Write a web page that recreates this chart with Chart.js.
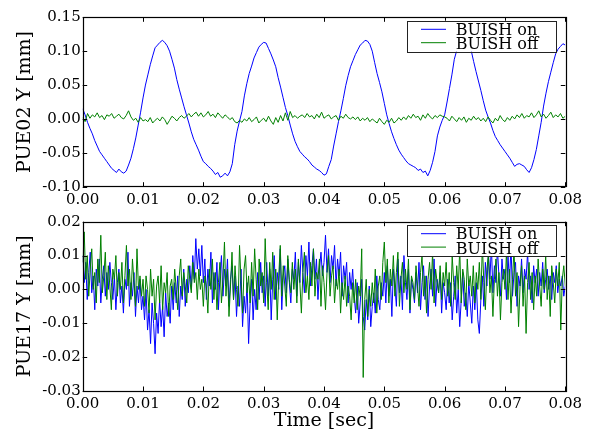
<!DOCTYPE html>
<html>
<head>
<meta charset="utf-8">
<script src="https://cdn.jsdelivr.net/npm/chart.js@4.4.1/dist/chart.umd.min.js"></script>
<style>
  html, body { margin: 0; padding: 0; background: #fff; }
  #wrap { position: relative; width: 591px; height: 431px; }
  canvas { position: absolute; left: 0; }
  #c1 { top: 0; }
  #c2 { top: 205px; }
</style>
</head>
<body>
<div id="wrap">
  <canvas id="c1" width="591" height="205"></canvas>
  <canvas id="c2" width="591" height="226"></canvas>
</div>
<script>
// ---------------- DATA ----------------
const seriesLabels = ["BUISH on", "BUISH off"];
const xTickLabels = ["0.00","0.01","0.02","0.03","0.04","0.05","0.06","0.07","0.08"];
const topYTickLabels = ["-0.10","-0.05","0.00","0.05","0.10","0.15"];
const bottomYTickLabels = ["-0.03","-0.02","-0.01","0.00","0.01","0.02"];
const topYLabel = "PUE02 Y [mm]";
const bottomYLabel = "PUE17 Y [mm]";
const xLabel = "Time [sec]";

// sample intervals (sec)
const topSampleInterval = 0.0004;
const bottomSampleInterval = 0.00025;

// PUE02 Y, BUISH on (mm)
const pue02On = [
 0.015, 0.006,-0.005,-0.014,-0.022,-0.032,-0.040,-0.048,-0.053,-0.058,
-0.063,-0.068,-0.073,-0.076,-0.079,-0.074,-0.078,-0.080,-0.077,-0.068,
-0.058,-0.044,-0.028,-0.009, 0.010, 0.031, 0.050, 0.065, 0.080, 0.093,
 0.105, 0.109, 0.113, 0.116, 0.113, 0.108, 0.100, 0.088, 0.075, 0.058,
 0.044, 0.031, 0.018, 0.006,-0.006,-0.019,-0.030,-0.038,-0.046,-0.055,
-0.063,-0.066,-0.070,-0.073,-0.077,-0.082,-0.079,-0.086,-0.084,-0.080,
-0.084,-0.078,-0.066,-0.038,-0.018,-0.003, 0.011, 0.034, 0.052, 0.067,
 0.078, 0.090, 0.098, 0.106, 0.110, 0.113, 0.112, 0.104, 0.096, 0.087,
 0.077, 0.061, 0.047, 0.032, 0.017, 0.005,-0.009,-0.022,-0.033,-0.041,
-0.048,-0.052,-0.056,-0.059,-0.063,-0.068,-0.071,-0.074,-0.076,-0.079,
-0.083,-0.081,-0.070,-0.060,-0.040,-0.022,-0.004, 0.012, 0.030, 0.049,
 0.064, 0.077, 0.086, 0.095, 0.102, 0.109, 0.112, 0.116, 0.115, 0.110,
 0.100, 0.083, 0.067, 0.054, 0.040, 0.023, 0.006,-0.007,-0.019,-0.029,
-0.038,-0.046,-0.052,-0.057,-0.062,-0.066,-0.068,-0.070,-0.072,-0.076,
-0.074,-0.079,-0.077,-0.084,-0.076,-0.064,-0.048,-0.025,-0.012,-0.002,
 0.006, 0.025, 0.045, 0.065, 0.088, 0.101, 0.109, 0.112, 0.114, 0.115,
 0.110, 0.101, 0.085, 0.070, 0.056, 0.042, 0.027, 0.013, 0.003,-0.006,
-0.017,-0.026,-0.032,-0.038,-0.043,-0.048,-0.053,-0.058,-0.064,-0.070,
-0.067,-0.066,-0.068,-0.070,-0.075,-0.079,-0.072,-0.060,-0.045,-0.025,
-0.005, 0.019, 0.038, 0.055, 0.069, 0.083, 0.096, 0.103, 0.107, 0.111,
 0.109
];

// PUE02 Y, BUISH off (mm)
const pue02Off = [
 0.002,-0.004, 0.008, 0.001, 0.006, 0.003, 0.009, 0.002, 0.005,-0.001,
 0.006, 0.004, 0.008, 0.001, 0.004, 0.007, 0.002, 0.000, 0.005, 0.012,
 0.003,-0.002, 0.001,-0.005, 0.002,-0.003,
-0.001,-0.004, 0.002,-0.006,-0.002, 0.001,-0.003, 0.003,-0.001,-0.008,
-0.002, 0.004, 0.001,-0.003, 0.002, 0.005, 0.001,
 0.004, 0.008, 0.003, 0.007, 0.010, 0.004, 0.009, 0.003, 0.006, 0.011,
 0.004, 0.007, 0.002, 0.009, 0.005, 0.001, 0.006, 0.003,-0.001, 0.002,
-0.004,-0.006,-0.002,-0.005, 0.000,-0.003, 0.002,-0.004,-0.001, 0.003,
-0.006,-0.002, 0.001,-0.004, 0.004,-0.003,-0.008, 0.002,-0.005, 0.005,
-0.003, 0.009,-0.002,
 0.011, 0.002, 0.005, 0.001, 0.004, 0.006, 0.002, 0.008, 0.003, 0.005,
 0.000, 0.007, 0.002, 0.010, 0.001, 0.004, 0.006, 0.000, 0.003, 0.005,
-0.002, 0.004, 0.001, 0.007, 0.002, 0.000, 0.003,
-0.001, 0.003,-0.003, 0.001,-0.002, 0.002,-0.004, 0.000,-0.003,-0.006,
 0.001,-0.004,-0.008,-0.002,-0.005, 0.001,-0.006,-0.003, 0.002,-0.002,
 0.003,-0.001, 0.005, 0.001, 0.007, 0.002, 0.004,-0.002, 0.006, 0.001,
 0.008, 0.003, 0.000, 0.005, 0.002, 0.006, 0.004, 0.003,
 0.001,-0.003, 0.004, 0.000,-0.004, 0.002,-0.002, 0.003,-0.005, 0.001,
-0.002, 0.004,-0.001, 0.002,-0.003, 0.001,-0.004, 0.003,-0.002,-0.006,
 0.001,-0.003, 0.005,-0.001,-0.004,
 0.002,-0.002, 0.004, 0.000, 0.006, 0.002, 0.008, 0.001, 0.005, 0.003,
 0.009, 0.002, 0.006, 0.012, 0.003, 0.007, 0.001, 0.005, 0.010, 0.002,
 0.006, 0.003, 0.008, 0.001, 0.004
];

// PUE17 Y, BUISH on (mm)
const pue17On = [
 0.010, 0.002, 0.008,-0.003, 0.005, 0.011,-0.001, 0.004,-0.006, 0.006, 0.001, 0.009,-0.004, 0.003, 0.007,-0.002, 0.005, 0.000, 0.008, 0.002,
-0.003, 0.004,-0.006, 0.002, 0.006,-0.004, 0.001,-0.007, 0.003, 0.000, 0.011,-0.005, 0.002,-0.002, 0.005,-0.008, 0.001,-0.004, 0.003,-0.006,
-0.002,-0.009, 0.000,-0.012,-0.006,-0.016,-0.004,-0.010,-0.019,-0.007,-0.013,-0.003,-0.011,-0.005,-0.014,-0.001,-0.008,-0.004,-0.010, 0.001,
-0.006, 0.002,-0.004, 0.004,-0.008, 0.001,-0.003, 0.006,-0.005, 0.003,-0.001, 0.007, 0.000, 0.010, 0.003, 0.015, 0.006, 0.012, 0.004, 0.013,
 0.002, 0.009,-0.003, 0.006, 0.001, 0.011,-0.004, 0.005, 0.000, 0.008,-0.006, 0.004, 0.010,-0.002, 0.006, 0.001, 0.009,-0.005, 0.003, 0.007,
-0.003, 0.004,-0.008, 0.001,-0.005, 0.006,-0.011,-0.002,-0.007, 0.002,-0.016,-0.004, 0.003,-0.009, 0.000,-0.006, 0.005,-0.003, 0.008,-0.001,
 0.004,-0.005, 0.008,-0.002, 0.006,-0.009, 0.003, 0.010,-0.003, 0.005, 0.000, 0.012,-0.006, 0.004, 0.007,-0.001, 0.009, 0.002,-0.004, 0.006,
 0.003, 0.011,-0.002, 0.008, 0.002, 0.013, 0.005,-0.001, 0.010, 0.004, 0.014, 0.001, 0.007, 0.012, 0.003, 0.009,-0.003, 0.006, 0.011, 0.004,
 0.008, 0.016, 0.005, 0.012, 0.002, 0.010, 0.006, 0.013, 0.001, 0.009, 0.004, 0.011,-0.002, 0.007, 0.003, 0.008,-0.004, 0.005, 0.000, 0.006,
-0.002,-0.007, 0.002,-0.010,-0.004, 0.003,-0.008,-0.012,-0.003,-0.009, 0.001,-0.011,-0.005,-0.001,-0.007, 0.004,-0.003,-0.006, 0.002,-0.002,
 0.005,-0.004, 0.007,-0.002, 0.003,-0.008, 0.006, 0.001,-0.005, 0.009,-0.001, 0.004,-0.006, 0.010, 0.002,-0.003, 0.006,-0.007, 0.003, 0.000,
-0.004, 0.005,-0.001, 0.008,-0.006, 0.002, 0.007,-0.003, 0.004,-0.008, 0.001, 0.006,-0.002, 0.009,-0.005, 0.003,-0.001, 0.005,-0.007, 0.002,
-0.001,-0.006, 0.003,-0.004, 0.002,-0.009,-0.002, 0.004,-0.007, 0.000,-0.011,-0.003, 0.005,-0.005,-0.001,-0.008, 0.002,-0.004,-0.010, 0.001,
-0.006, 0.002,-0.009,-0.013,-0.003, 0.004,-0.005, 0.008, 0.001, 0.011, 0.003, 0.013,-0.001, 0.007, 0.002, 0.012, 0.004,-0.002, 0.009, 0.003,
 0.006,-0.003, 0.010, 0.002, 0.013,-0.002, 0.005, 0.008,-0.005, 0.004, 0.001, 0.009,-0.001, 0.006, 0.003, 0.011, 0.000, 0.004,-0.004, 0.007,
 0.002, 0.006,-0.002, 0.005, 0.001, 0.008,-0.001, 0.003, 0.006, 0.000, 0.004,-0.003, 0.005, 0.002, 0.007,-0.001, 0.003, 0.001, 0.004,-0.002,
 0.001
];

// PUE17 Y, BUISH off (mm)
const pue17Off = [
 0.008, 0.017, 0.003, 0.010,-0.002, 0.006, 0.012, 0.000, 0.005,-0.004, 0.009, 0.002, 0.016,-0.001, 0.004, 0.011,-0.003, 0.007, 0.001,-0.006,
 0.006, 0.003, 0.010,-0.002, 0.005, 0.000, 0.008,-0.004, 0.004, 0.013, 0.001, 0.006,-0.003, 0.009, 0.002,-0.005, 0.012, 0.000, 0.004,-0.002,
 0.003,-0.005, 0.004, 0.000,-0.007, 0.006,-0.002, 0.003,-0.009, 0.001, 0.004,-0.004, 0.007,-0.006, 0.002,-0.001, 0.005,-0.008, 0.001, 0.003,
-0.003, 0.006, 0.000,-0.006, 0.004, 0.009,-0.002, 0.005, 0.001,-0.004, 0.007, 0.003,-0.001, 0.008, 0.002, 0.005,-0.003, 0.006, 0.000, 0.003,
-0.005, 0.004, 0.001,-0.007, 0.006, 0.000, 0.009,-0.003, 0.005,-0.006, 0.002, 0.008,-0.004, 0.003, 0.014,-0.002, 0.006,-0.008, 0.001, 0.011,
-0.003, 0.007, 0.000,-0.005, 0.013, 0.002,-0.007, 0.006, 0.010,-0.001, 0.004,-0.004, 0.008,-0.002, 0.012, 0.003,-0.006, 0.009, 0.001, 0.005,
-0.004, 0.015, 0.002,-0.006, 0.008, 0.000, 0.011,-0.003, 0.006,-0.009, 0.004, 0.013,-0.002, 0.007, 0.001,-0.005, 0.010, 0.003,-0.001, 0.008,
 0.000, 0.006,-0.004, 0.009, 0.002,-0.007, 0.005, 0.011,-0.001, 0.004,-0.003, 0.008, 0.001, 0.012,-0.002, 0.005, 0.003, 0.009,-0.005, 0.007,
 0.002,-0.006, 0.005, 0.010,-0.002, 0.004, 0.007,-0.004, 0.003, 0.000, 0.006,-0.007, 0.002,-0.003, 0.004,-0.005, 0.001,-0.002,-0.009, 0.002,
-0.004, 0.003,-0.006, 0.001,-0.002, 0.012,-0.026,-0.003, 0.003,-0.008, 0.000,-0.005, 0.002,-0.004, 0.006,-0.007, 0.001, 0.004,-0.003, 0.008,
 0.014, 0.002, 0.009,-0.004, 0.006, 0.001, 0.010,-0.002, 0.005, 0.011,-0.005, 0.003, 0.008,-0.001, 0.006, 0.000, 0.009,-0.006, 0.004, 0.002,
-0.003, 0.007, 0.001,-0.005, 0.005, 0.010,-0.002, 0.004,-0.007, 0.003, 0.008, 0.000, 0.011,-0.004, 0.006, 0.002,-0.001, 0.007,-0.003, 0.005,
 0.001, 0.008,-0.002, 0.005,-0.005, 0.010, 0.002,-0.003, 0.007, 0.000, 0.012,-0.004, 0.006, 0.003,-0.006, 0.009, 0.001, 0.004,-0.002, 0.007,
-0.004, 0.005, 0.000, 0.008,-0.003, 0.013, 0.002,-0.006, 0.006, 0.010,-0.001, 0.004,-0.008, 0.003, 0.009,-0.002, 0.005,-0.009, 0.002, 0.006,
 0.000, 0.011,-0.003, 0.006,-0.007, 0.003, 0.012,-0.002, 0.005,-0.011, 0.001, 0.007,-0.005, 0.004,-0.013, 0.002, 0.008,-0.003, 0.005,-0.006,
 0.004,-0.002, 0.009, 0.001,-0.005, 0.006, 0.000, 0.010,-0.003, 0.004,-0.008, 0.007, 0.002,-0.004, 0.006, 0.001, 0.008,-0.012, 0.003, 0.007,
 0.001
];

// ---------------- CHART ----------------
const FONT = "'DejaVu Serif', 'Liberation Serif', serif";
Chart.defaults.font.family = FONT;
Chart.defaults.color = '#000';

const COLORS = ['#0000ff', '#008000'];

function toPoints(values, step) {
  return values.map((v, i) => ({ x: i * step, y: v }));
}

// frame, inward ticks and legend box
const framePlugin = {
  id: 'frame',
  afterDraw(chart) {
    const { ctx, chartArea: a, scales } = chart;
    ctx.save();
    const TL = 4.5;
    ctx.strokeStyle = '#000';
    ctx.lineWidth = 1;
    ctx.beginPath();
    scales.x.ticks.forEach(t => {
      const px = Math.round(scales.x.getPixelForValue(t.value)) + 0.5;
      ctx.moveTo(px, a.bottom); ctx.lineTo(px, a.bottom - TL);
      ctx.moveTo(px, a.top); ctx.lineTo(px, a.top + TL);
    });
    scales.y.ticks.forEach(t => {
      const py = Math.round(scales.y.getPixelForValue(t.value)) + 0.5;
      ctx.moveTo(a.left, py); ctx.lineTo(a.left + TL, py);
      ctx.moveTo(a.right, py); ctx.lineTo(a.right - TL, py);
    });
    ctx.stroke();
    ctx.lineWidth = 1.2;
    ctx.strokeRect(Math.round(a.left) + 0.5, Math.round(a.top) + 0.5,
                   Math.round(a.right - a.left), Math.round(a.bottom - a.top));

    // legend
    const bw = 149.3, bh = 31;
    const bx = a.right - 9.3 - bw, by = a.top + 3.4;
    ctx.fillStyle = '#fff';
    ctx.fillRect(bx, by, bw, bh);
    ctx.strokeStyle = '#222';
    ctx.lineWidth = 1;
    ctx.strokeRect(Math.round(bx) + 0.5, Math.round(by) + 0.5, Math.round(bw), Math.round(bh));
    ctx.font = '16px ' + FONT;
    ctx.textBaseline = 'alphabetic';
    ctx.textAlign = 'left';
    const rows = [{ line: 8.6, base: 14.3 }, { line: 22, base: 28.6 }];
    chart.data.datasets.forEach((ds, i) => {
      const r = rows[i];
      ctx.strokeStyle = ds.borderColor;
      ctx.lineWidth = 1;
      ctx.beginPath();
      ctx.moveTo(bx + 14.3, by + r.line);
      ctx.lineTo(bx + 39.3, by + r.line);
      ctx.stroke();
      ctx.fillStyle = '#000';
      ctx.fillText(ds.label, bx + 49, by + r.base);
    });
    ctx.restore();
  }
};

function makeChart(canvasId, onVals, offVals, step, yMin, yMax, yStep, yLabel, yTickLabels, showX, padTop, xHeight) {
  const fmt = v => v.toFixed(2);
  return new Chart(document.getElementById(canvasId), {
    type: 'line',
    data: {
      datasets: [
        { label: seriesLabels[0], data: toPoints(onVals, step), borderColor: COLORS[0], borderWidth: 1, pointRadius: 0, tension: 0, order: 1 },
        { label: seriesLabels[1], data: toPoints(offVals, step), borderColor: COLORS[1], borderWidth: 1, pointRadius: 0, tension: 0, order: 0 }
      ]
    },
    options: {
      responsive: false,
      animation: false,
      events: [],
      layout: { padding: { left: 0, right: 25.7, top: padTop, bottom: 0 } },
      plugins: { legend: { display: false }, tooltip: { enabled: false } },
      scales: {
        x: {
          type: 'linear', min: 0, max: 0.08,
          grid: { display: false, drawTicks: false },
          border: { display: false },
          ticks: {
            stepSize: 0.01, padding: 4, maxRotation: 0, autoSkip: false,
            font: { size: 15 },
            callback: (v) => { const s = fmt(v); return xTickLabels.includes(s) ? s : ''; }
          },
          title: { display: showX, text: xLabel, font: { size: 19 }, padding: { top: 0, bottom: -1 } },
          afterFit: s => { s.height = xHeight; }
        },
        y: {
          type: 'linear', min: yMin, max: yMax,
          grid: { display: false, drawTicks: false },
          border: { display: false },
          ticks: {
            stepSize: yStep, padding: 2, autoSkip: false,
            font: { size: 15 },
            callback: (v) => { let s = fmt(v); if (s === '-0.00') s = '0.00'; return yTickLabels.includes(s) ? s : ''; }
          },
          title: { display: true, text: yLabel, font: { size: 19 }, padding: { top: 14, bottom: 0 } },
          afterFit: s => { s.width = 82.7; }
        }
      }
    },
    plugins: [framePlugin]
  });
}

makeChart('c1', pue02On, pue02Off, topSampleInterval, -0.10, 0.15, 0.05, topYLabel, topYTickLabels, false, 17.3, 18.3);
makeChart('c2', pue17On, pue17Off, bottomSampleInterval, -0.03, 0.02, 0.01, bottomYLabel, bottomYTickLabels, true, 16.7, 40);
</script>
</body>
</html>
